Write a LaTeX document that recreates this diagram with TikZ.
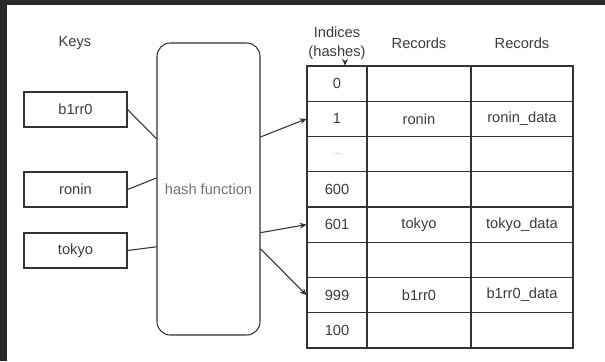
\documentclass[tikz,border=0pt]{standalone}
\usepackage{fontspec}
\setmainfont{Liberation Sans}
\usetikzlibrary{positioning,arrows.meta}
\definecolor{txtgray}{HTML}{3C3C3C}
\definecolor{edgegray}{HTML}{333333}
\definecolor{darkframe}{HTML}{2A2A2A}

\tikzset{
	keybox/.style={draw=edgegray, line width=0.8pt, minimum width=77.25pt, minimum height=26.25pt, inner sep=0pt},
	cell/.style={draw=edgegray, line width=0.8pt, minimum height=26.44pt, inner sep=0pt},
	link/.style={draw=edgegray, line width=0.8pt},
	arrow/.style={link, -{Stealth[length=5pt,width=4.5pt]}}
}

\begin{document}
\begin{tikzpicture}[x=0.75pt,y=-0.75pt, font=\fontsize{11}{14.25}\selectfont, text=txtgray]
		% page and dark frame
		\useasboundingbox (0,0) rectangle (605,361);
		\fill[white] (0,0) rectangle (605,361);
		\fill[darkframe] (0,0) rectangle (605,4.7);
		\fill[darkframe] (0,0) rectangle (7,361);
		% Keys
		\node (keys) at (75,43) {Keys};
		\node[keybox] (kb1rr0) at (75.5,109.5) {b1rr0};
		\node[keybox] (kronin) at (75.5,189.5) {ronin};
		\node[keybox] (ktokyo) at (75.5,250.5) {tokyo};
		% hash function
		\node[draw=edgegray, line width=0.8pt, rounded corners=10pt, minimum width=77.25pt, minimum height=219pt, inner sep=0pt, text=black!55] (hash) at (208.5,189) {hash function};
		\draw[link] (kb1rr0.east) -- (hash.136);
		\draw[link] (kronin.east) -- (hash.168);
		\draw[link] (ktokyo.east) -- (hash.228.4);
		% table headers
		\node[align=center] (hdr) at (337,43) {Indices\\(hashes)};
		\node (rec1) at (419,43) {Records};
		\node (rec2) at (522,43) {Records};
		% table rows
		\foreach \idx/\rec/\dat [count=\r from 0] in {0//, 1/ronin/ronin\_data, {\textcolor{black!50}{\fontsize{5.5}{6}\selectfont...}}//, 600//, 601/tokyo/tokyo\_data, //, 999/b1rr0/b1rr0\_data, 100//} {
			\node[cell, minimum width=45pt] (i\r) at (337,{83.6+35.25*\r}) {\idx};
			\node[cell, minimum width=78pt] (r\r) at (419,{83.6+35.25*\r}) {\rec};
			\node[cell, minimum width=76.5pt] (d\r) at (522,{83.6+35.25*\r}) {\dat};
		}
		\draw[arrow] ([xshift=6pt]hdr.south) -- ([xshift=6pt]i0.north);
		% hashes into the table
		\draw[arrow] (hash.45.3) -- (i1.west);
		\draw[arrow] (hash.320.8) -- (i4.west);
		\draw[arrow] (hash.311.6) -- (i6.west);
	\end{tikzpicture}
\end{document}
